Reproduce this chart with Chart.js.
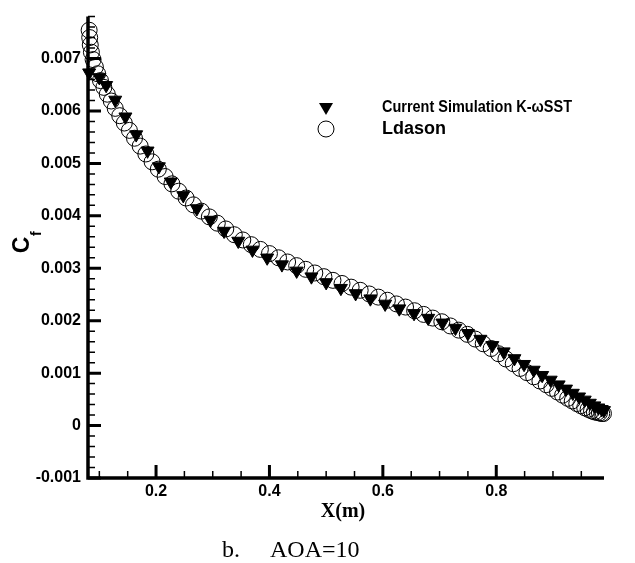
<!DOCTYPE html>
<html>
<head>
<meta charset="utf-8">
<script src="https://cdn.jsdelivr.net/npm/chart.js@4.4.1/dist/chart.umd.min.js"></script>
<style>
  body { margin: 0; background: #fff; }
  #wrap { position: relative; width: 635px; height: 563px; }
  .cap { position: absolute; top: 537px; line-height: 1; font-family: "Liberation Serif", "Times New Roman", serif; font-size: 24px; color: #000; }
</style>
</head>
<body>
<div id="wrap">
  <canvas id="cf"></canvas>
  <span class="cap" style="left:222px">b.</span>
  <span class="cap" style="left:270px">AOA=10</span>
</div>
<script>
// Current Simulation K-wSST (filled triangles)
const simX = [0.082, 0.100, 0.112, 0.128, 0.146, 0.165, 0.185, 0.205, 0.226, 0.248,
  0.272, 0.296, 0.320, 0.345, 0.370, 0.396, 0.422, 0.448, 0.474, 0.500,
  0.526, 0.552, 0.578, 0.604, 0.629, 0.655, 0.680, 0.705, 0.728, 0.750,
  0.772, 0.793, 0.813, 0.832, 0.849, 0.866, 0.881, 0.896, 0.910, 0.923,
  0.935, 0.946, 0.956, 0.965, 0.973, 0.980, 0.986, 0.990];
const simCf = [0.00673, 0.00664, 0.00649, 0.00621, 0.00589, 0.00555, 0.00524, 0.00494, 0.00465, 0.00439,
  0.00414, 0.00392, 0.00371, 0.00352, 0.00335, 0.00320, 0.00307, 0.00295, 0.00284, 0.00273,
  0.00262, 0.00252, 0.00242, 0.00232, 0.00223, 0.00214, 0.00205, 0.00196, 0.00186, 0.00176,
  0.00165, 0.00153, 0.00141, 0.00128, 0.00117, 0.00106, 0.00096, 0.00087, 0.00078, 0.00070,
  0.00062, 0.00055, 0.00049, 0.00043, 0.00038, 0.00034, 0.00031, 0.00029];

// Ldason (open circles)
const ldasonX = [0.082, 0.083, 0.084, 0.086, 0.089, 0.093, 0.097, 0.102, 0.108, 0.114,
  0.121, 0.128, 0.136, 0.144, 0.153, 0.162, 0.172, 0.182, 0.193, 0.204,
  0.216, 0.228, 0.240, 0.253, 0.266, 0.280, 0.294, 0.308, 0.323, 0.338,
  0.353, 0.368, 0.384, 0.400, 0.416, 0.432, 0.448, 0.464, 0.480, 0.496,
  0.512, 0.528, 0.544, 0.560, 0.576, 0.592, 0.608, 0.624, 0.640, 0.656,
  0.672, 0.688, 0.704, 0.719, 0.734, 0.749, 0.763, 0.777, 0.791, 0.804,
  0.817, 0.830, 0.842, 0.854, 0.866, 0.877, 0.888, 0.898, 0.908, 0.917,
  0.926, 0.934, 0.942, 0.949, 0.956, 0.962, 0.968, 0.973, 0.978, 0.982,
  0.986, 0.989];
const ldasonCf = [0.00754, 0.00740, 0.00726, 0.00712, 0.00698, 0.00684, 0.00671, 0.00658, 0.00645, 0.00632,
  0.00619, 0.00605, 0.00591, 0.00577, 0.00563, 0.00548, 0.00533, 0.00518, 0.00503, 0.00489,
  0.00475, 0.00461, 0.00447, 0.00434, 0.00421, 0.00409, 0.00398, 0.00386, 0.00375, 0.00364,
  0.00354, 0.00345, 0.00336, 0.00328, 0.00320, 0.00312, 0.00305, 0.00298, 0.00291, 0.00284,
  0.00277, 0.00271, 0.00264, 0.00258, 0.00251, 0.00245, 0.00239, 0.00232, 0.00226, 0.00219,
  0.00212, 0.00205, 0.00198, 0.00190, 0.00182, 0.00174, 0.00165, 0.00156, 0.00147, 0.00137,
  0.00127, 0.00118, 0.00109, 0.00101, 0.00093, 0.00085, 0.00078, 0.00071, 0.00064, 0.00058,
  0.00052, 0.00047, 0.00042, 0.00038, 0.00034, 0.00031, 0.00028, 0.00026, 0.00025, 0.00024,
  0.00023, 0.00023];

const xTicks = [0.2, 0.4, 0.6, 0.8];
const xTickLabels = ["0.2", "0.4", "0.6", "0.8"];
const xMinorTicks = [0.1, 0.15, 0.25, 0.3, 0.35, 0.45, 0.5, 0.55, 0.65, 0.7, 0.75, 0.85, 0.9, 0.95];
const yTicks = [-0.001, 0, 0.001, 0.002, 0.003, 0.004, 0.005, 0.006, 0.007];
const yTickLabels = ["-0.001", "0", "0.001", "0.002", "0.003", "0.004", "0.005", "0.006", "0.007"];

const legendNames = ["Current Simulation K-\u03C9SST", "Ldason"];

const toPoints = (xs, ys) => xs.map((x, i) => ({ x: x, y: ys[i] }));

// y minor ticks every 0.0002 between the majors
const yMinorTicks = [];
for (let k = -5; k <= 39; k++) {
  if (k % 5 !== 0) yMinorTicks.push(k * 0.0002);
}

const axisDecor = {
  id: "axisDecor",
  afterDraw(chart) {
    const { ctx, chartArea: a, scales } = chart;
    const xs = scales.x, ys = scales.y;
    ctx.save();
    ctx.strokeStyle = "#000";
    ctx.lineCap = "butt";

    // minor ticks
    ctx.lineWidth = 1.5;
    ctx.beginPath();
    xMinorTicks.forEach((v) => {
      const px = xs.getPixelForValue(v);
      ctx.moveTo(px, a.bottom);
      ctx.lineTo(px, a.bottom - 7);
    });
    yMinorTicks.forEach((v) => {
      const py = ys.getPixelForValue(v);
      ctx.moveTo(a.left, py);
      ctx.lineTo(a.left + 7, py);
    });
    ctx.stroke();

    // major ticks
    ctx.lineWidth = 3;
    ctx.beginPath();
    xTicks.forEach((v) => {
      const px = xs.getPixelForValue(v);
      ctx.moveTo(px, a.bottom);
      ctx.lineTo(px, a.bottom - 13);
    });
    yTicks.forEach((v) => {
      const py = ys.getPixelForValue(v);
      ctx.moveTo(a.left, py);
      ctx.lineTo(a.left + 13, py);
    });
    ctx.stroke();

    // axis lines (left + bottom only)
    ctx.lineWidth = 3.5;
    ctx.lineJoin = "miter";
    ctx.beginPath();
    ctx.moveTo(a.left, a.top);
    ctx.lineTo(a.left, a.bottom);
    ctx.lineTo(a.right, a.bottom);
    ctx.stroke();

    // axis titles
    ctx.fillStyle = "#000";
    ctx.font = 'bold 20px "Liberation Serif", "Times New Roman", serif';
    ctx.textAlign = "center";
    ctx.textBaseline = "alphabetic";
    ctx.fillText("X(m)", 343, 517);

    ctx.save();
    ctx.translate(29, 245);
    ctx.rotate(-Math.PI / 2);
    ctx.font = 'bold 23px "Liberation Sans", Arial, sans-serif';
    ctx.textAlign = "center";
    ctx.fillText("C", 0, 0);
    ctx.font = 'bold 14px "Liberation Sans", Arial, sans-serif';
    ctx.textAlign = "left";
    ctx.fillText("f", 9, 12);
    ctx.restore();

    // legend
    const lx = 326, tx = 382, rows = [107, 129];
    ctx.font = 'bold 17px "Liberation Sans", Arial, sans-serif';
    ctx.textAlign = "left";
    ctx.textBaseline = "middle";
    // triangle symbol
    ctx.beginPath();
    ctx.moveTo(lx - 7, rows[0] - 4);
    ctx.lineTo(lx + 7, rows[0] - 4);
    ctx.lineTo(lx, rows[0] + 8);
    ctx.closePath();
    ctx.fill();
    ctx.fillText(legendNames[0], tx, rows[0], 190);
    // circle symbol
    ctx.lineWidth = 1;
    ctx.beginPath();
    ctx.arc(lx, rows[1], 8, 0, Math.PI * 2);
    ctx.stroke();
    ctx.font = 'bold 18px "Liberation Sans", Arial, sans-serif';
    ctx.fillText(legendNames[1], tx, rows[1]);
    ctx.restore();
  },
};

new Chart(document.getElementById("cf"), {
  type: "scatter",
  data: {
    datasets: [
      {
        label: legendNames[0],
        data: toPoints(simX, simCf),
        pointStyle: "triangle",
        rotation: 180,
        pointRadius: 7.5,
        backgroundColor: "#000",
        borderColor: "#000",
        borderWidth: 1,
        clip: false,
      },
      {
        label: legendNames[1],
        data: toPoints(ldasonX, ldasonCf),
        pointStyle: "circle",
        pointRadius: 8,
        backgroundColor: "rgba(0,0,0,0)",
        borderColor: "#000",
        borderWidth: 1,
        clip: false,
      },
    ],
  },
  options: {
    responsive: true,
    maintainAspectRatio: false,
    animation: false,
    layout: { padding: { left: 0, top: 8, right: 31, bottom: 0 } },
    plugins: {
      legend: { display: false },
      tooltip: { enabled: false },
    },
    scales: {
      x: {
        type: "linear",
        min: 0.08,
        max: 0.99,
        grid: { display: false, drawTicks: false },
        border: { display: false },
        afterBuildTicks: (scale) => {
          scale.ticks = xTicks.map((v) => ({ value: v }));
        },
        afterFit: (scale) => {
          scale.height = 85;
        },
        ticks: {
          padding: 4,
          color: "#000",
          font: { family: '"Liberation Sans", Arial, sans-serif', size: 16, weight: "bold" },
          callback: (v) => xTickLabels[xTicks.indexOf(v)],
        },
      },
      y: {
        type: "linear",
        min: -0.001,
        max: 0.0078,
        grid: { display: false, drawTicks: false },
        border: { display: false },
        afterBuildTicks: (scale) => {
          scale.ticks = yTicks.map((v) => ({ value: v }));
        },
        afterFit: (scale) => {
          scale.width = 88;
        },
        ticks: {
          padding: 7,
          color: "#000",
          font: { family: '"Liberation Sans", Arial, sans-serif', size: 16, weight: "bold" },
          callback: (v) => yTickLabels[yTicks.indexOf(v)],
        },
      },
    },
  },
  plugins: [axisDecor],
});
</script>
</body>
</html>
